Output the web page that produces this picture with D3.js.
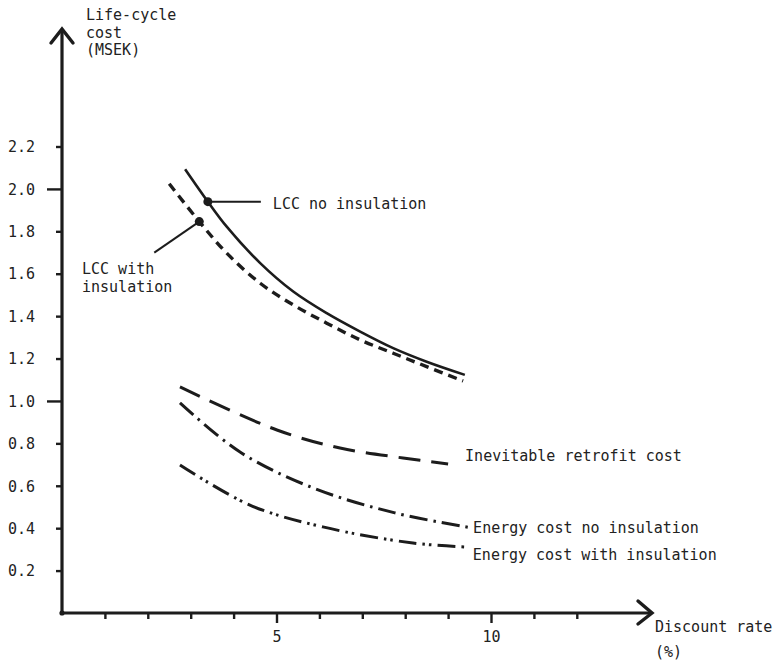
<!DOCTYPE html>
<html>
<head>
<meta charset="utf-8">
<script src="https://cdn.jsdelivr.net/npm/d3@7"></script>
<style>
  body { margin: 0; background: #fff; }
  text { font-family: 'DejaVu Sans Mono', monospace; font-size: 15px; fill: #222; }
</style>
</head>
<body>
<div id="chart"></div>
<script>
// discount rate (%) and life-cycle cost (MSEK)
let lccNoInsRate = [2.87, 3.40, 3.84, 4.62, 5.39, 6.17, 6.95, 7.72, 8.50, 9.39]
let lccNoInsCost = [2.093, 1.94, 1.822, 1.65, 1.516, 1.414, 1.327, 1.249, 1.185, 1.123]

let lccInsRate = [2.50, 3.20, 3.84, 4.62, 5.39, 6.17, 6.95, 7.72, 8.50, 9.35]
let lccInsCost = [2.024, 1.846, 1.697, 1.555, 1.453, 1.367, 1.288, 1.225, 1.162, 1.094]

let retrofitRate = [2.75, 5.01, 6.48, 7.95, 9.0]
let retrofitCost = [1.066, 0.863, 0.778, 0.731, 0.703]

let energyNoInsRate = [2.75, 4.15, 5.85, 7.76, 9.56]
let energyNoInsCost = [0.991, 0.759, 0.59, 0.472, 0.401]

let energyInsRate = [2.75, 4.38, 6.08, 8.18, 9.46]
let energyInsCost = [0.698, 0.509, 0.406, 0.33, 0.311]

let xTicks = [1, 2, 3, 4, 5, 6, 7, 8, 9, 10, 11, 12]
let xTickLabels = ['', '', '', '', '5', '', '', '', '', '10', '', '']
let yTicks = [0.2, 0.4, 0.6, 0.8, 1.0, 1.2, 1.4, 1.6, 1.8, 2.0, 2.2]
let yTickLabels = ['0.2', '0.4', '0.6', '0.8', '1.0', '1.2', '1.4', '1.6', '1.8', '2.0', '2.2']
let majorX = [5, 10]
let majorY = [1.0, 2.0]

let width = 777
let height = 660

let svg = d3
  .select('#chart')
  .append('svg')
  .attr('width', width)
  .attr('height', height)

let xPositionScale = d3.scaleLinear().domain([0, 10]).range([62, 491])
let yPositionScale = d3.scaleLinear().domain([0, 2.2]).range([613, 146.5])

let ink = '#1c1c1c'

// series built from the arrays
let zip = (rates, costs) => rates.map((r, i) => ({ rate: r, cost: costs[i] }))

let series = [
  { key: 'lccNoIns', values: zip(lccNoInsRate, lccNoInsCost), dash: null, width: 2.6 },
  { key: 'lccIns', values: zip(lccInsRate, lccInsCost), dash: '9,6', width: 3.4 },
  { key: 'retrofit', values: zip(retrofitRate, retrofitCost), dash: '22,11', width: 3 },
  { key: 'energyNoIns', values: zip(energyNoInsRate, energyNoInsCost), dash: '18,6,2.5,6', width: 3 },
  { key: 'energyIns', values: zip(energyInsRate, energyInsCost), dash: '18,6,2.5,4,2.5,6', width: 3 }
]

let line = d3
  .line()
  .x(d => xPositionScale(d.rate))
  .y(d => yPositionScale(d.cost))
  .curve(d3.curveCatmullRom.alpha(0.5))

// axes
let yAxis = d3
  .axisLeft(yPositionScale)
  .tickValues(yTicks)
  .tickFormat((d, i) => yTickLabels[i])
  .tickSize(6)
svg
  .append('g')
  .attr('class', 'axis y-axis')
  .attr('transform', 'translate(' + xPositionScale(0) + ',0)')
  .call(yAxis)

let xAxis = d3
  .axisBottom(xPositionScale)
  .tickValues(xTicks)
  .tickFormat((d, i) => xTickLabels[i])
  .tickSize(6)
svg
  .append('g')
  .attr('class', 'axis x-axis')
  .attr('transform', 'translate(0,' + yPositionScale(0) + ')')
  .call(xAxis)

svg.selectAll('.axis .domain').remove()
svg
  .selectAll('.axis line')
  .attr('stroke', ink)
  .attr('stroke-width', 2.4)
svg
  .selectAll('.y-axis .tick line')
  .attr('x2', d => (majorY.indexOf(d) !== -1 ? -15 : -6))
svg
  .selectAll('.x-axis .tick line')
  .attr('y2', d => (majorX.indexOf(d) !== -1 ? 10 : 6))
svg
  .selectAll('.y-axis .tick text')
  .attr('x', -27)
  .attr('dy', '0.35em')
svg
  .selectAll('.x-axis .tick text')
  .attr('y', 18)
  .attr('dy', '0.71em')
svg.selectAll('.axis').attr('font-family', null).attr('font-size', null)

// axis lines with open arrow heads
let x0 = xPositionScale(0)
let y0 = yPositionScale(0)
let yTip = 29
let xTip = 652

svg
  .append('path')
  .attr('d', 'M' + x0 + ',' + (y0 + 1) + 'V' + yTip)
  .attr('stroke', ink)
  .attr('stroke-width', 3.2)
  .attr('fill', 'none')
svg
  .append('path')
  .attr('d', 'M' + (x0 - 11) + ',' + (yTip + 14) + 'L' + x0 + ',' + yTip + 'L' + (x0 + 11) + ',' + (yTip + 14))
  .attr('stroke', ink)
  .attr('stroke-width', 3.4)
  .attr('stroke-linecap', 'round')
  .attr('fill', 'none')

svg
  .append('path')
  .attr('d', 'M' + (x0 - 1) + ',' + y0 + 'H' + xTip)
  .attr('stroke', ink)
  .attr('stroke-width', 3.2)
  .attr('fill', 'none')
svg
  .append('path')
  .attr('d', 'M' + (xTip - 14) + ',' + (y0 - 12) + 'L' + xTip + ',' + y0 + 'L' + (xTip - 14) + ',' + (y0 + 11))
  .attr('stroke', ink)
  .attr('stroke-width', 3.4)
  .attr('stroke-linecap', 'round')
  .attr('fill', 'none')
svg
  .append('circle')
  .attr('cx', x0)
  .attr('cy', y0)
  .attr('r', 2.6)
  .attr('fill', ink)

// axis titles
let yTitle = ['Life-cycle', 'cost', '(MSEK)']
svg
  .selectAll('.y-title')
  .data(yTitle)
  .enter()
  .append('text')
  .attr('class', 'y-title')
  .attr('x', 86)
  .attr('y', (d, i) => 15 + i * 17.5)
  .attr('dy', '0.35em')
  .text(d => d)

let xTitle = ['Discount rate', '(%)']
svg
  .selectAll('.x-title')
  .data(xTitle)
  .enter()
  .append('text')
  .attr('class', 'x-title')
  .attr('x', xTip + 3)
  .attr('y', (d, i) => 627 + i * 25)
  .attr('dy', '0.35em')
  .text(d => d)

// curves
svg
  .selectAll('.cost-line')
  .data(series)
  .enter()
  .append('path')
  .attr('class', 'cost-line')
  .attr('d', d => line(d.values))
  .attr('stroke', ink)
  .attr('stroke-width', d => d.width)
  .attr('stroke-dasharray', d => d.dash)
  .attr('fill', 'none')

// markers + leaders for the two LCC curves
let noInsMark = series[0].values[1]
let insMark = series[1].values[1]

svg
  .append('line')
  .attr('x1', xPositionScale(noInsMark.rate))
  .attr('y1', yPositionScale(noInsMark.cost))
  .attr('x2', xPositionScale(noInsMark.rate) + 53)
  .attr('y2', yPositionScale(noInsMark.cost))
  .attr('stroke', ink)
  .attr('stroke-width', 2)
svg
  .append('line')
  .attr('x1', xPositionScale(insMark.rate))
  .attr('y1', yPositionScale(insMark.cost))
  .attr('x2', xPositionScale(insMark.rate) - 45)
  .attr('y2', yPositionScale(insMark.cost) + 31)
  .attr('stroke', ink)
  .attr('stroke-width', 2)

svg
  .selectAll('.mark')
  .data([noInsMark, insMark])
  .enter()
  .append('circle')
  .attr('class', 'mark')
  .attr('cx', d => xPositionScale(d.rate))
  .attr('cy', d => yPositionScale(d.cost))
  .attr('r', 4.5)
  .attr('fill', ink)

svg
  .append('text')
  .attr('x', xPositionScale(noInsMark.rate) + 65)
  .attr('y', yPositionScale(noInsMark.cost) + 2)
  .attr('dy', '0.35em')
  .text('LCC no insulation')

svg
  .selectAll('.ins-label')
  .data(['LCC with', 'insulation'])
  .enter()
  .append('text')
  .attr('class', 'ins-label')
  .attr('x', 82)
  .attr('y', (d, i) => yPositionScale(insMark.cost) + 47 + i * 18)
  .attr('dy', '0.35em')
  .text(d => d)

// end labels
let endLabels = [
  { key: 'retrofit', text: 'Inevitable retrofit cost', dx: 17, dy: -8 },
  { key: 'energyNoIns', text: 'Energy cost no insulation', dx: 1, dy: 0 },
  { key: 'energyIns', text: 'Energy cost with insulation', dx: 5, dy: 8 }
]

svg
  .selectAll('.end-label')
  .data(endLabels)
  .enter()
  .append('text')
  .attr('class', 'end-label')
  .attr('x', d => {
    let s = series.find(s => s.key === d.key)
    return xPositionScale(s.values[s.values.length - 1].rate) + d.dx
  })
  .attr('y', d => {
    let s = series.find(s => s.key === d.key)
    return yPositionScale(s.values[s.values.length - 1].cost) + d.dy
  })
  .attr('dy', '0.35em')
  .text(d => d.text)
</script>
</body>
</html>
